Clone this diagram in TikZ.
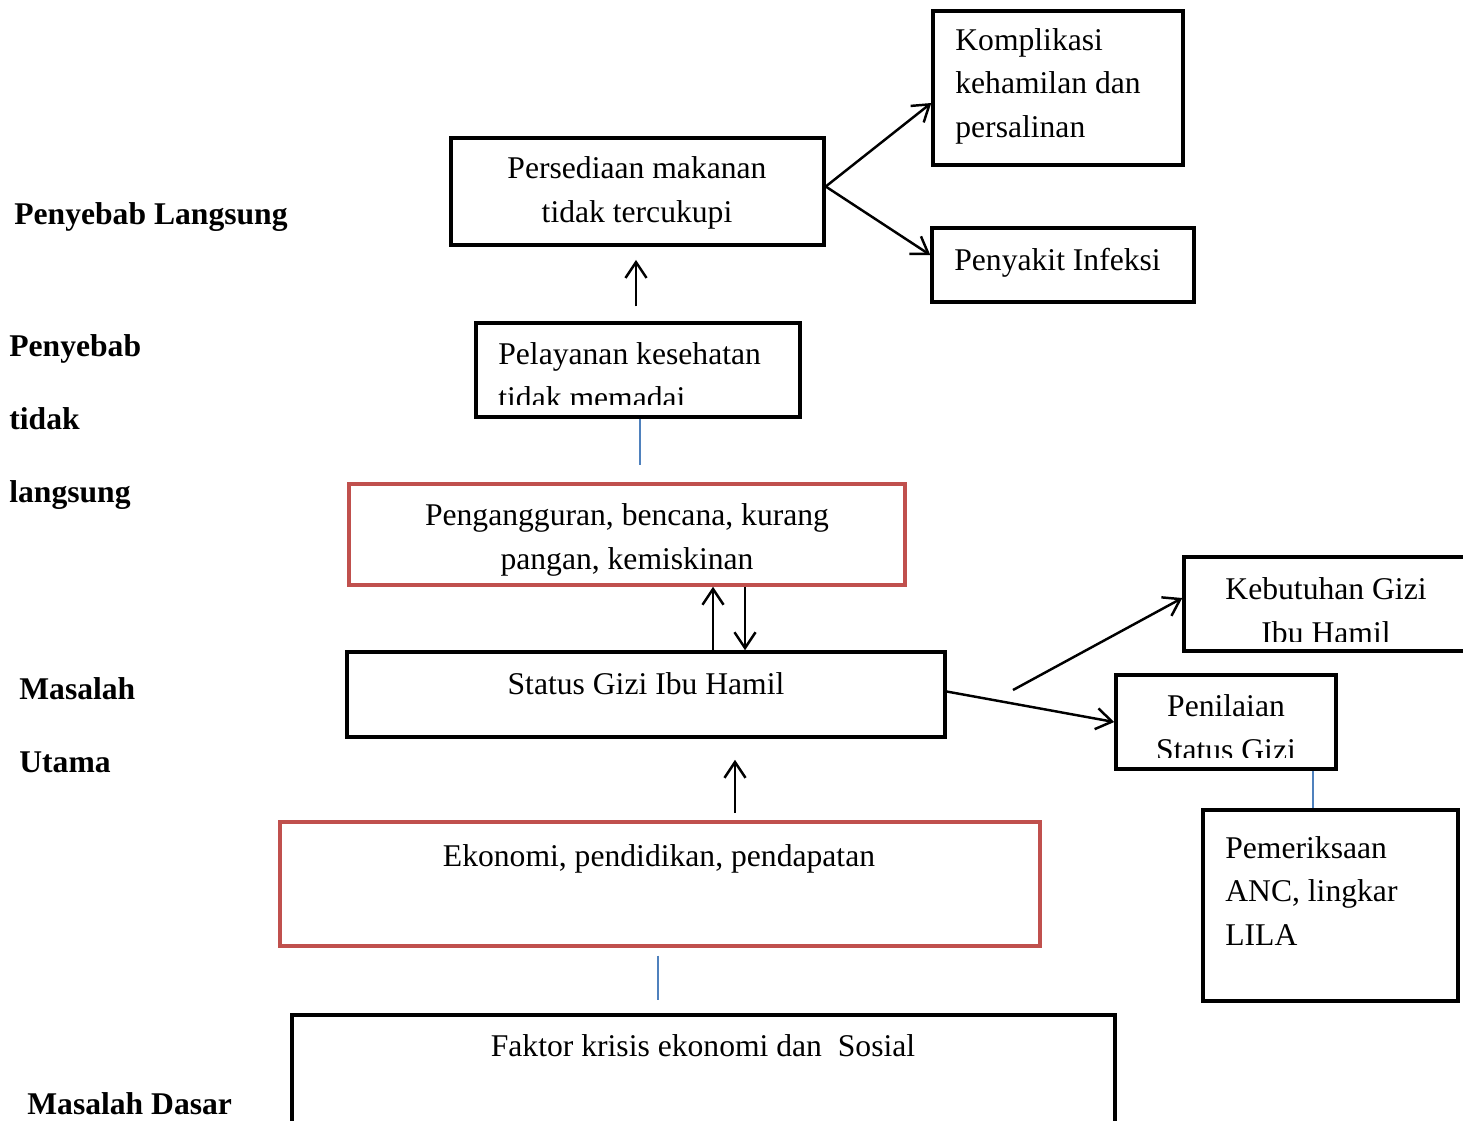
\documentclass[tikz,border=0pt]{standalone}
\usepackage{fontspec}
\setmainfont{Liberation Serif}
\usetikzlibrary{arrows.meta,calc}
\definecolor{merah}{HTML}{C0504D}
\definecolor{biru}{HTML}{4F81BD}

\begin{document}
\begin{tikzpicture}[x=0.02cm,y=-0.02cm,
  kotak/.style={draw, line width=2pt, inner sep=0pt},
  kotakmerah/.style={kotak, draw=merah},
  teks/.style={font=\fontsize{18pt}{24.5pt}\selectfont, inner sep=0pt, align=center},
  judul/.style={teks, font=\fontsize{18pt}{24.5pt}\selectfont\bfseries, anchor=base west},
  panah/.style={-{Straight Barb[length=9pt,width=12pt]}, line width=1.4pt},
  garis/.style={biru, line width=0.8pt}]
\useasboundingbox (0,0) rectangle (1463,1120);

% label kiri
\node[judul] (j1) at (14,224) {Penyebab Langsung};
\node[judul] (j2) at (9,356) {Penyebab};
\node[judul] (j3) at (9,429) {tidak};
\node[judul] (j4) at (9,502) {langsung};
\node[judul] (j5) at (19,699) {Masalah};
\node[judul] (j6) at (19,772) {Utama};
\node[judul] (j7) at (27,1114) {Masalah Dasar};

% kotak
\node[kotak, minimum width=7.46cm, minimum height=2.14cm] (sedia) at (637.5,191.5) {};
\node[kotak, minimum width=5cm, minimum height=3.08cm] (kompli) at (1058,88) {};
\node[kotak, minimum width=5.24cm, minimum height=1.48cm] (infeksi) at (1063,265) {};
\node[kotak, minimum width=6.48cm, minimum height=1.88cm] (layan) at (638,370) {};
\node[kotakmerah, minimum width=11.12cm, minimum height=2.02cm] (anggur) at (627,534.5) {};
\node[kotak, minimum width=11.96cm, minimum height=1.7cm] (status) at (646,694.5) {};
\node[kotak, minimum width=5.92cm, minimum height=1.88cm] (butuh) at (1332,604) {};
\node[kotak, minimum width=4.4cm, minimum height=1.88cm] (nilai) at (1226,722) {};
\node[kotak, minimum width=5.1cm, minimum height=3.82cm] (periksa) at (1330.5,905.5) {};
\node[kotakmerah, minimum width=15.2cm, minimum height=2.48cm] (ekonomi) at (660,884) {};
\node[kotak, minimum width=16.46cm, minimum height=2.5cm] (faktor) at (703.5,1077.5) {};

% teks kotak (base = baris terakhir)
\node[teks, anchor=base] (tsedia) at (637,222) {Persediaan makanan\\tidak tercukupi};
\node[teks, align=left, anchor=base west] (tkompli) at (955,137) {Komplikasi\\kehamilan dan\\persalinan};
\node[teks, anchor=base west] (tinfeksi) at (954,270) {Penyakit Infeksi};
\begin{scope}
\clip (478,325) rectangle (798,404);
\node[teks, align=left, anchor=base west] (tlayan) at (498,408) {Pelayanan kesehatan\\tidak memadai};
\end{scope}
\node[teks, anchor=base] (tanggur) at (627,569) {Pengangguran, bencana, kurang\\pangan, kemiskinan};
\node[teks, anchor=base] (tstatus) at (646,694) {Status Gizi Ibu Hamil};
\begin{scope}
\clip (1186,559) rectangle (1463,641);
\node[teks, anchor=base] (tbutuh) at (1326,643) {Kebutuhan Gizi\\Ibu Hamil};
\end{scope}
\begin{scope}
\clip (1118,677) rectangle (1334,757);
\node[teks, anchor=base] (tnilai) at (1226,760) {Penilaian\\Status Gizi};
\end{scope}
\node[teks, align=left, anchor=base west] (tperiksa) at (1225,945) {Pemeriksaan\\ANC, lingkar\\LILA};
\node[teks, anchor=base] (tekonomi) at (659,866) {Ekonomi, pendidikan, pendapatan};
\node[teks, anchor=base] (tfaktor) at (703,1056) {Faktor krisis ekonomi dan\ \ Sosial};

% titik bantu
\coordinate (a0) at ($(sedia.east)+(0,-5)$);
\coordinate (a1) at ($(layan.north)+(-2,0)$);
\coordinate (a2) at ($(layan.south)+(2,0)$);
\coordinate (a3) at ($(status.north)+(67,0)$);
\coordinate (a4) at ($(status.north)+(99,0)$);
\coordinate (a5) at ($(nilai.south)+(87,0)$);
\coordinate (a6) at ($(ekonomi.north)+(75,0)$);
\coordinate (a7) at ($(ekonomi.south)+(-2,0)$);
\coordinate (a8) at ($(status.east)+(0,-3)$);
\coordinate (awal) at (1013,690);

% panah
\draw[panah] (a0) -- ($(kompli.west)+(0,15)$);
\draw[panah] (a0) -- ($(infeksi.west)+(0,-10)$);
\draw[panah, shorten <=8.5pt, shorten >=7.5pt] (a1) -- (a1 |- sedia.south);
\draw[garis, shorten >=10pt] (a2) -- (a2 |- anggur.north);
\draw[panah] (a3) -- (a3 |- anggur.south);
\draw[panah] (a4 |- anggur.south) -- (a4);
\draw[panah] (awal) -- ($(butuh.west)+(0,-6)$);
\draw[panah] (a8) -- (nilai.west);
\draw[garis] (a5) -- (a5 |- periksa.north);
\draw[panah, shorten <=4pt, shorten >=12pt] (a6) -- (a6 |- status.south);
\draw[garis, shorten <=4.5pt, shorten >=7.5pt] (a7) -- (a7 |- faktor.north);
\end{tikzpicture}
\end{document}
